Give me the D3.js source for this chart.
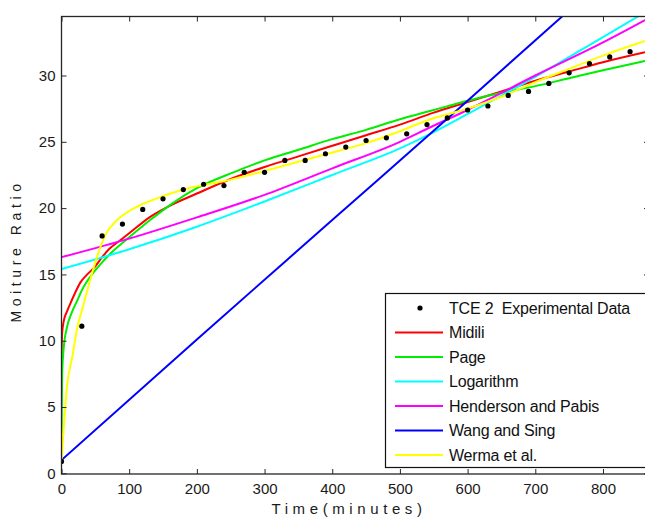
<!DOCTYPE html>
<html><head><meta charset="utf-8">
<script src="https://cdn.jsdelivr.net/npm/d3@7"></script>
<style>
html,body{margin:0;padding:0;background:#fff;}
svg{display:block;font-family:"Liberation Sans",Arial,sans-serif;}
</style></head>
<body>
<svg id="c" width="645" height="517"></svg>
<script>
// ---- data ----
const xTicks = [0,100,200,300,400,500,600,700,800];
const yTicks = [0,5,10,15,20,25,30];

const expTime = [0,30,60,90,120,150,180,210,240,270,300,330,360,390,420,450,480,510,540,570,600,630,660,690,720,750,780,810,840];
const expMR   = [0.9,11.1,17.9,18.8,19.9,20.7,21.4,21.8,21.7,22.7,22.7,23.6,23.6,24.1,24.6,25.1,25.3,25.6,26.3,26.8,27.4,27.7,28.5,28.8,29.4,30.2,30.9,31.4,31.8];

const midiliT  = [0,1,3,8,13,20,28,38,48,60,70,85,100,130,165,200,250,300,350,400,450,500,550,600,650,700,750,800,862];
const midiliMR = [9.0,10.6,11.4,12.2,12.8,13.6,14.4,15.0,15.5,16.3,16.9,17.5,18.1,19.3,20.3,21.1,22.2,23.1,23.9,24.7,25.5,26.3,27.2,28.0,28.8,29.6,30.3,31.0,31.75];

const pageT  = [0,1,3,8,15,23,30,38,48,58,77,100,131,165,200,254,300,350,400,450,500,550,600,650,700,750,800,862];
const pageMR = [3.0,7.5,9.3,11.0,12.1,13.0,13.8,14.5,15.2,15.8,16.8,17.8,19.1,20.4,21.5,22.7,23.6,24.4,25.2,25.9,26.7,27.4,28.1,28.7,29.2,29.8,30.4,31.1];

const logT  = [0,100,200,300,400,500,545,600,700,800,870];
const logMR = [15.4,16.9,18.6,20.5,22.5,24.5,25.6,27.1,29.9,32.9,35.0];

const hpT  = [0,100,200,300,400,500,545,600,700,800,870];
const hpMR = [16.3,17.7,19.3,21.0,23.0,25.0,26.1,27.4,30.0,32.5,34.4];

const wsT  = [0,200,400,600,800];
const wsMR = [1.0,10.1,19.1,28.1,37.2];

const wermaT  = [0,3,8,16,23,33,43,55,65,80,104,139,188,237,300,350,400,450,500,545,600,650,700,750,800,862];
const wermaMR = [0.9,3.2,6.5,8.8,10.9,12.8,14.7,16.7,18.0,19.0,19.9,20.7,21.5,22.0,22.8,23.5,24.2,24.9,25.8,26.7,27.5,28.4,29.5,30.5,31.5,32.6];

const seriesNames  = ["Midili","Page","Logarithm","Henderson and Pabis","Wang and Sing","Werma et al."];
const seriesColors = ["#ff0000","#00ee00","#00ffff","#ff00ff","#0000ff","#ffff00"];
const seriesT  = [midiliT,pageT,logT,hpT,wsT,wermaT];
const seriesMR = [midiliMR,pageMR,logMR,hpMR,wsMR,wermaMR];
const expName = "TCE 2  Experimental Data";

// ---- layout ----
const L = 61.5, R = 649, T = 16.5, B = 474;
const svg = d3.select("#c");
const x = d3.scaleLinear().domain([0,868]).range([L,R]);
const y = d3.scaleLinear().domain([-0.05,34.45]).range([B,T]);

svg.append("clipPath").attr("id","clip").append("rect")
  .attr("x",L).attr("y",T).attr("width",R-L).attr("height",B-T);

const plot = svg.append("g").attr("clip-path","url(#clip)");
const line = d3.line().x(d=>x(d[0])).y(d=>y(d[1])).curve(d3.curveMonotoneX);

seriesNames.forEach((n,i)=>{
  const pts = seriesT[i].map((t,j)=>[t,seriesMR[i][j]]);
  plot.append("path").datum(pts).attr("d",line)
    .attr("fill","none").attr("stroke",seriesColors[i])
    .attr("stroke-width",2).attr("stroke-linejoin","round");
});

plot.selectAll("circle.exp").data(expTime.map((t,i)=>[t,expMR[i]]))
  .enter().append("circle").attr("class","exp")
  .attr("cx",d=>x(d[0])).attr("cy",d=>y(d[1])).attr("r",2.6).attr("fill","#000");

// ---- axes ----
const axColor = "#262626";
function styleAxis(g, showText){
  g.select(".domain").remove();
  g.selectAll("line").attr("stroke",axColor);
  g.selectAll("text").attr("fill","#1a1a1a").style("font-size","15px");
  if(!showText) g.selectAll("text").remove();
}
svg.append("g").attr("transform",`translate(0,${B})`)
  .call(d3.axisBottom(x).tickValues(xTicks).tickSizeInner(-5).tickSizeOuter(0).tickPadding(9))
  .call(g=>styleAxis(g,true));
svg.append("g").attr("transform",`translate(0,${T})`)
  .call(d3.axisTop(x).tickValues(xTicks).tickSizeInner(-5).tickSizeOuter(0))
  .call(g=>styleAxis(g,false));
svg.append("g").attr("transform",`translate(${L},0)`)
  .call(d3.axisLeft(y).tickValues(yTicks).tickSizeInner(-5).tickSizeOuter(0).tickPadding(6))
  .call(g=>styleAxis(g,true));
svg.append("g").attr("transform",`translate(${R},0)`)
  .call(d3.axisRight(y).tickValues(yTicks).tickSizeInner(-5).tickSizeOuter(0))
  .call(g=>styleAxis(g,false));

svg.append("rect").attr("x",L).attr("y",T).attr("width",R-L).attr("height",B-T)
  .attr("fill","none").attr("stroke",axColor).attr("stroke-width",1.3);

// axis titles
svg.append("text").attr("x",349).attr("y",514).attr("text-anchor","middle")
  .style("font-size","15px").style("letter-spacing","4.6px").attr("fill","#1a1a1a")
  .text("Time(minutes)");
svg.append("text").attr("transform","translate(21,251) rotate(-90)").attr("text-anchor","middle")
  .style("font-size","14px").style("letter-spacing","4.6px").attr("fill","#1a1a1a")
  .text("Moiture Ratio");

// ---- legend ----
const lg = svg.append("g");
lg.append("rect").attr("x",385.5).attr("y",293.5).attr("width",270).attr("height",174)
  .attr("fill","#fff").attr("stroke","#111").attr("stroke-width",1.2);
const rowY = i => 308 + i*24.5;
lg.append("circle").attr("cx",420).attr("cy",rowY(0)).attr("r",2.6).attr("fill","#000");
lg.append("text").attr("x",449).attr("y",rowY(0)+5.8).style("font-size","16px")
  .style("letter-spacing","-0.2px").style("white-space","pre").attr("fill","#111").text(expName);
seriesNames.forEach((n,i)=>{
  const yy = rowY(i+1);
  lg.append("line").attr("x1",395).attr("x2",443).attr("y1",yy).attr("y2",yy)
    .attr("stroke",seriesColors[i]).attr("stroke-width",2);
  lg.append("text").attr("x",449).attr("y",yy+5.8).style("font-size","16px")
    .style("letter-spacing","-0.2px").attr("fill","#111").text(n);
});
</script>
</body></html>
